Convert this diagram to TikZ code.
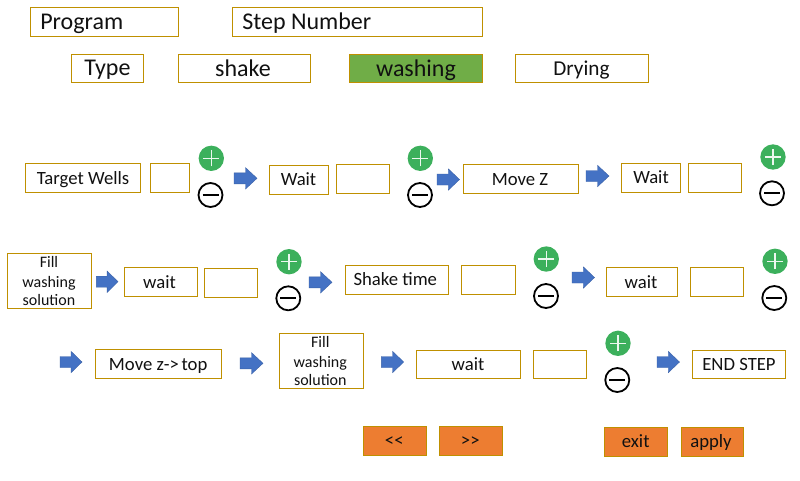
\documentclass[tikz,border=0pt]{standalone}
\usepackage{fontspec}
\setmainfont{Carlito}
\definecolor{gold}{HTML}{BF9000}
\definecolor{grn}{HTML}{70AD47}
\definecolor{org}{HTML}{ED7D31}
\definecolor{blu}{HTML}{4472C4}
\definecolor{plusg}{HTML}{3CB05C}
\definecolor{ink}{HTML}{111111}
\tikzset{
  boxline/.style={draw=gold,line width=0.8pt},
  arrowshape/.style={fill=blu,draw=blu!85!black,line width=0.3pt},
  plusdisc/.style={circle,fill=plusg,minimum size=19pt,inner sep=0pt},
  minusring/.style={circle,draw=black,line width=1.35pt,minimum size=18pt,inner sep=0pt},
}
% #1 name, #2 x1, #3 y1, #4 x2, #5 y2, #6 options
\newcommand{\boxat}[6]{\path[boxline,#6] (#2,-#3) rectangle (#4,-#5);
  \coordinate (#1) at ({(#2+#4)/2},{-(#3+#5)/2});}
\newcommand{\blockarrow}[4]{% name, x1, x2, yc
  \coordinate (#1) at (#2,-#4);
  \path[arrowshape]
    (#2,-#4+5.5) -- ({#2+0.5*(#3-#2)},-#4+5.5) -- ({#2+0.5*(#3-#2)},-#4+10.7) -- (#3,-#4)
    -- ({#2+0.5*(#3-#2)},-#4-10.7) -- ({#2+0.5*(#3-#2)},-#4-5.5) -- (#2,-#4-5.5) -- cycle;}
\newcommand{\plusminus}[5]{% name, x, yplus, x minus, y minus
  \node[plusdisc] (#1p) at (#2,-#3) {};
  \draw[white!90!plusg,line width=0.8pt] (#2-8,-#3) -- (#2+8,-#3) (#2,-#3-8) -- (#2,-#3+8);
  \node[minusring] (#1m) at (#4,-#5) {};
  \draw[black,line width=1.4pt] (#4-8,-#5) -- (#4+8,-#5);}
\newcommand{\lab}[6]{\node[anchor=#5,inner sep=0pt,text=ink,font=\fontsize{\dimexpr #4pt*3/4\relax}{\dimexpr #4pt*3/4\relax}\selectfont] (#1) at (#2,-#3-1.5) {\vphantom{Ay}#6};}
\begin{document}
\begin{tikzpicture}[x=0.75pt,y=0.75pt]
\useasboundingbox (0,0) rectangle (800,-480);
\fill[white] (0,0) rectangle (800,-480);
% top
\boxat{bprog}{30.5}{7.5}{178.5}{36.5}{}
\lab{tprog}{40}{22}{24}{west}{Program}
\boxat{bstep}{232.5}{7.5}{482.5}{36.5}{}
\lab{tstep}{242}{22}{24}{west}{Step Number}
\boxat{btype}{71.5}{54.5}{143.5}{82.5}{}
\lab{ttype}{107.5}{68.5}{24}{center}{Type}
\boxat{bshake}{178.5}{54.5}{310.5}{82.5}{}
\lab{tshake}{243}{68.5}{24}{center}{shake}
\boxat{bwash}{349.5}{54.5}{482.5}{82.5}{fill=grn}
\lab{twash}{416}{68.5}{24}{center}{washing}
\boxat{bdry}{515.5}{54.5}{648.5}{82.5}{}
\lab{tdry}{581.5}{68.5}{21.2}{center}{Drying}
% row 1
\boxat{b1}{25.5}{163.5}{140.5}{192.5}{}
\lab{t1}{83}{178}{18.7}{center}{Target Wells}
\boxat{e1}{150.5}{163.5}{189.5}{192.5}{}
\plusminus{pm1}{211.3}{158.3}{210.5}{195}
\blockarrow{a1}{234}{257}{178.3}
\boxat{b2}{269.5}{165.5}{328.5}{194.5}{}
\lab{t2}{298.5}{179}{18.7}{center}{Wait}
\boxat{e2}{336.5}{164.5}{389.5}{193.5}{}
\plusminus{pm2}{420.3}{158.3}{420}{195}
\blockarrow{a2}{437}{459.5}{179.5}
\boxat{b3}{463.5}{164.5}{578.5}{193.5}{}
\lab{t3}{520}{179}{18.7}{center}{Move Z}
\blockarrow{a3}{586}{609}{176}
\boxat{b4}{621.5}{163.5}{680.5}{192.5}{}
\lab{t4}{651}{177}{18.7}{center}{Wait}
\boxat{e4}{688.5}{163.5}{741.5}{192.5}{}
\plusminus{pm3}{773}{157}{772}{193.3}
% row 2
\boxat{b5}{7.5}{253.5}{91.5}{308.5}{}
\lab{t5a}{49}{262}{16}{center}{Fill}
\lab{t5b}{49}{281.5}{16}{center}{washing}
\lab{t5c}{49}{300}{16}{center}{solution}
\blockarrow{a4}{96.3}{118}{281.7}
\boxat{b6}{124.5}{267.5}{197.5}{296.5}{}
\lab{t6}{159.5}{282}{18.7}{center}{wait}
\boxat{e6}{204.5}{268.5}{257.5}{297.5}{}
\plusminus{pm4}{289}{261.7}{288.3}{298.3}
\blockarrow{a5}{309}{332}{282.3}
\boxat{b7}{345.5}{265.5}{448.5}{294.5}{}
\lab{t7}{395.3}{279}{18.7}{center}{Shake time}
\boxat{e7}{461.5}{265.5}{515.5}{294.5}{}
\plusminus{pm5}{546.3}{259}{546}{296}
\blockarrow{a6}{572}{594.5}{277.5}
\boxat{b8}{606.5}{267.5}{677.5}{296.5}{}
\lab{t8}{641}{282}{18.7}{center}{wait}
\boxat{e8}{690.5}{267.5}{743.5}{296.5}{}
\plusminus{pm6}{775}{261.3}{774.3}{298}
% row 3
\blockarrow{a7}{60}{82}{362}
\boxat{b9}{95.5}{349.5}{221.5}{378.5}{}
\lab{t9}{158.2}{364}{18.7}{center}{Move z->\kern2pt top}
\blockarrow{a8}{240}{263}{363.3}
\boxat{b10}{279.5}{333.5}{363.5}{388.5}{}
\lab{t10a}{320.3}{342}{16}{center}{Fill}
\lab{t10b}{320.3}{361.5}{16}{center}{washing}
\lab{t10c}{320.3}{380}{16}{center}{solution}
\blockarrow{a9}{381.3}{403.7}{362}
\boxat{b11}{416.5}{350.5}{520.5}{378.5}{}
\lab{t11}{468}{364}{18.7}{center}{wait}
\boxat{e11}{533.5}{350.5}{586.5}{378.5}{}
\plusminus{pm7}{618}{343.3}{617.3}{380}
\blockarrow{a10}{657}{679.5}{362}
\boxat{b12}{692.5}{350.5}{785.5}{378.5}{}
\lab{t12}{739}{364}{18.7}{center}{END STEP}
% buttons
\boxat{b13}{363.5}{426.5}{426.5}{455.5}{fill=org}
\lab{t13}{394.3}{440.5}{18.7}{center}{<{}<}
\boxat{b14}{439.5}{426.5}{502.5}{455.5}{fill=org}
\lab{t14}{470.3}{440.5}{18.7}{center}{>{}>}
\boxat{b15}{604.5}{427.5}{667.5}{456.5}{fill=org}
\lab{t15}{635.7}{441}{18.7}{center}{exit}
\boxat{b16}{681.5}{427.5}{743.5}{456.5}{fill=org}
\lab{t16}{711}{441}{18.7}{center}{apply}
\end{tikzpicture}
\end{document}
